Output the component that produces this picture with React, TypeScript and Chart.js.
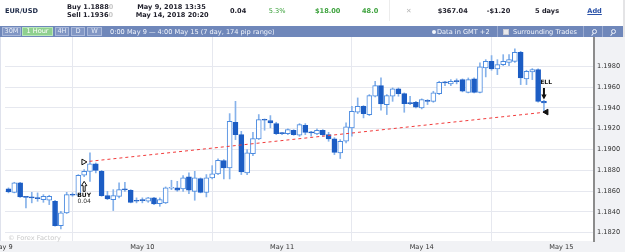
import React, { useEffect, useRef } from "react";
import { Chart, registerables } from "chart.js";

Chart.register(...registerables);

// ---------- data (hourly EUR/USD candles) ----------
const candleOpen = [
  1.18621, 1.18588, 1.18679, 1.18544, 1.18538, 1.18531, 1.18518, 1.18512, 1.18502, 1.18268,
  1.18390, 1.18563, 1.18560, 1.18752, 1.18790, 1.18862, 1.18790, 1.18557, 1.18518, 1.18550,
  1.18614, 1.18608, 1.18506, 1.18512, 1.18502, 1.18535, 1.18480, 1.18487, 1.18627, 1.18631,
  1.18621, 1.18737, 1.18598, 1.18720, 1.18588, 1.18727, 1.18765, 1.18893, 1.18823, 1.19262,
  1.19143, 1.18775, 1.18961, 1.19102, 1.19285, 1.19278, 1.19249, 1.19156, 1.19153, 1.19185,
  1.19137, 1.19233, 1.19162, 1.19150, 1.19185, 1.19143, 1.19102, 1.18967, 1.19079, 1.19208,
  1.19358, 1.19415, 1.19336, 1.19512, 1.19614, 1.19432, 1.19512, 1.19583, 1.19537, 1.19444,
  1.19454, 1.19400, 1.19467, 1.19463, 1.19537, 1.19643, 1.19631, 1.19656, 1.19672, 1.19550,
  1.19679, 1.19550, 1.19785, 1.19848, 1.19775, 1.19816, 1.19838, 1.19848, 1.19935, 1.19679,
  1.19746, 1.19768, 1.19463,
];
const candleHigh = [
  1.18631, 1.18685, 1.18685, 1.18550, 1.18588, 1.18583, 1.18566, 1.18560, 1.18512, 1.18406,
  1.18588, 1.18583, 1.18759, 1.18807, 1.18967, 1.18871, 1.18800, 1.18598, 1.18614, 1.18679,
  1.18685, 1.18614, 1.18535, 1.18535, 1.18540, 1.18540, 1.18535, 1.18640, 1.18704, 1.18694,
  1.18749, 1.18775, 1.18790, 1.18727, 1.18759, 1.18845, 1.18910, 1.18903, 1.19345, 1.19463,
  1.19175, 1.18999, 1.19165, 1.19336, 1.19294, 1.19326, 1.19262, 1.19165, 1.19198, 1.19191,
  1.19249, 1.19249, 1.19175, 1.19198, 1.19191, 1.19165, 1.19114, 1.19095, 1.19256, 1.19415,
  1.19496, 1.19422, 1.19528, 1.19656, 1.19688, 1.19528, 1.19592, 1.19592, 1.19544, 1.19512,
  1.19463, 1.19487, 1.19480, 1.19560, 1.19656, 1.19656, 1.19672, 1.19679, 1.19679, 1.19688,
  1.19688, 1.19833, 1.19864, 1.19903, 1.19864, 1.19912, 1.19912, 1.19967, 1.19944, 1.19762,
  1.19778, 1.19775, 1.19473,
];
const candleLow = [
  1.18583, 1.18583, 1.18540, 1.18438, 1.18487, 1.18502, 1.18492, 1.18470, 1.18262, 1.18237,
  1.18384, 1.18550, 1.18550, 1.18739, 1.18694, 1.18775, 1.18550, 1.18518, 1.18413, 1.18535,
  1.18598, 1.18487, 1.18487, 1.18487, 1.18492, 1.18470, 1.18454, 1.18480, 1.18614, 1.18598,
  1.18598, 1.18576, 1.18512, 1.18583, 1.18544, 1.18717, 1.18759, 1.18717, 1.18717, 1.19095,
  1.18759, 1.18759, 1.18941, 1.19095, 1.19185, 1.19208, 1.19143, 1.19143, 1.19143, 1.19137,
  1.19127, 1.19143, 1.19127, 1.19143, 1.19127, 1.19079, 1.18951, 1.18913, 1.19063, 1.19127,
  1.19345, 1.19304, 1.19326, 1.19506, 1.19377, 1.19336, 1.19463, 1.19512, 1.19358, 1.19432,
  1.19400, 1.19390, 1.19432, 1.19454, 1.19528, 1.19614, 1.19614, 1.19631, 1.19554, 1.19544,
  1.19544, 1.19544, 1.19698, 1.19762, 1.19720, 1.19807, 1.19807, 1.19838, 1.19624, 1.19624,
  1.19672, 1.19454, 1.19367,
];
const candleClose = [
  1.18592, 1.18679, 1.18544, 1.18540, 1.18535, 1.18528, 1.18550, 1.18550, 1.18268, 1.18390,
  1.18566, 1.18560, 1.18752, 1.18790, 1.18862, 1.18800, 1.18557, 1.18525, 1.18557, 1.18614,
  1.18612, 1.18492, 1.18502, 1.18509, 1.18535, 1.18477, 1.18518, 1.18631, 1.18631, 1.18608,
  1.18727, 1.18608, 1.18727, 1.18588, 1.18727, 1.18765, 1.18896, 1.18823, 1.19271, 1.19143,
  1.18785, 1.18967, 1.19105, 1.19287, 1.19281, 1.19256, 1.19153, 1.19153, 1.19191, 1.19143,
  1.19239, 1.19165, 1.19160, 1.19185, 1.19143, 1.19102, 1.18973, 1.19079, 1.19217, 1.19367,
  1.19415, 1.19345, 1.19518, 1.19614, 1.19438, 1.19518, 1.19583, 1.19537, 1.19441, 1.19441,
  1.19406, 1.19480, 1.19463, 1.19544, 1.19646, 1.19640, 1.19656, 1.19653, 1.19560, 1.19672,
  1.19550, 1.19794, 1.19848, 1.19775, 1.19816, 1.19848, 1.19864, 1.19935, 1.19688, 1.19752,
  1.19768, 1.19463, 1.19448,
];

const dayTickValues = [-1, 23, 47, 71, 95];
const dayTickLabels = ["May 9", "May 10", "May 11", "May 14", "May 15"];
const priceTicks = [1.182, 1.184, 1.186, 1.188, 1.19, 1.192, 1.194, 1.196, 1.198];

// trade: entry / exit position (hour slot) and price
const tradeSlots = [12.9, 92.4];
const tradePrices = [1.1888, 1.1936];
const buyCandle = 13;
const sellCandle = 92;
const tradeLots = "0.04";

const FONT = "'DejaVu Sans', sans-serif";
const BEAR = "#1c5dc4";
const BULL_EDGE = "#4a8ae0";
const WICK = "#86b2ea";

const fxPlugin = {
  id: "fxDecor",
  beforeDraw(chart: any) {
    const { ctx, chartArea: a, width, height } = chart;
    ctx.save();
    ctx.fillStyle = "#ffffff";
    ctx.fillRect(0, 0, width, height);
    ctx.fillStyle = "#f1f2f5";
    ctx.fillRect(0, a.bottom, width, height - a.bottom);
    ctx.fillRect(a.right, a.top, width - a.right, height - a.top);
    ctx.fillStyle = "#dfe2ec";
    ctx.fillRect(0, a.top, 1, a.bottom - a.top);
    ctx.restore();
  },
  beforeDatasetsDraw(chart: any) {
    const { ctx, chartArea: a, scales } = chart;
    const xs = scales.x;
    const ys = scales.y;
    ctx.save();
    // watermark
    ctx.font = `6.6px ${FONT}`;
    ctx.fillStyle = "#c9c9c9";
    ctx.textAlign = "left";
    ctx.textBaseline = "middle";
    ctx.fillText("\u00a9 Forex Factory", a.left + 3, a.bottom - 3);

    // SELL arrow (filled, pointing down) above the exit candle
    const sx = xs.getPixelForValue(sellCandle);
    const sb = ys.getPixelForValue(candleHigh[sellCandle]) - 0.7;
    ctx.beginPath();
    ctx.moveTo(sx, sb);
    ctx.lineTo(sx + 2.7, sb - 5.2);
    ctx.lineTo(sx + 1, sb - 5.2);
    ctx.lineTo(sx + 1, sb - 11.7);
    ctx.lineTo(sx - 1, sb - 11.7);
    ctx.lineTo(sx - 1, sb - 5.2);
    ctx.lineTo(sx - 2.7, sb - 5.2);
    ctx.closePath();
    ctx.fillStyle = "#111111";
    ctx.fill();
    ctx.textAlign = "center";
    ctx.font = `bold 6px ${FONT}`;
    ctx.fillText("SELL", sx, sb - 16.7);
    ctx.restore();
  },
  afterDatasetsDraw(chart: any) {
    const { ctx, scales } = chart;
    const xs = scales.x;
    const ys = scales.y;
    ctx.save();
    // BUY arrow (hollow, pointing up) under the entry candle
    const bx = xs.getPixelForValue(buyCandle);
    const bt = ys.getPixelForValue(candleLow[buyCandle]) + 4.7;
    ctx.beginPath();
    ctx.moveTo(bx, bt);
    ctx.lineTo(bx + 2.7, bt + 4.3);
    ctx.lineTo(bx + 1, bt + 4.3);
    ctx.lineTo(bx + 1, bt + 10);
    ctx.lineTo(bx - 1, bt + 10);
    ctx.lineTo(bx - 1, bt + 4.3);
    ctx.lineTo(bx - 2.7, bt + 4.3);
    ctx.closePath();
    ctx.fillStyle = "#ffffff";
    ctx.fill();
    ctx.strokeStyle = "#111111";
    ctx.lineWidth = 1;
    ctx.stroke();
    ctx.textAlign = "center";
    ctx.textBaseline = "middle";
    ctx.fillStyle = "#111111";
    ctx.font = `bold 6px ${FONT}`;
    ctx.fillText("BUY", bx, bt + 14.3);
    ctx.font = `6px ${FONT}`;
    ctx.fillStyle = "#333333";
    ctx.fillText(tradeLots, bx, bt + 20.5);
    ctx.restore();
  },
};

function ChartCanvas() {
  const ref = useRef<HTMLCanvasElement | null>(null);
  useEffect(() => {
    document.body.style.margin = "0";
    const canvas = ref.current;
    if (!canvas) return;
    Chart.defaults.font.family = FONT;
    const bodies = candleOpen.map((o, i) => ({ x: i, y: [o, candleClose[i]] }));
    const wicks = candleLow.map((l, i) => ({ x: i, y: [l, candleHigh[i]] }));
    const isBull = candleOpen.map((o, i) => candleClose[i] >= o);
    const chart = new Chart(canvas, {
      type: "bar",
      data: {
        datasets: [
          {
            type: "bar",
            data: wicks as any,
            backgroundColor: WICK,
            borderWidth: 0,
            barThickness: 1,
            grouped: false,
            order: 3,
          } as any,
          {
            type: "bar",
            data: bodies as any,
            backgroundColor: isBull.map((b) => (b ? "#ffffff" : BEAR)),
            borderColor: isBull.map((b) => (b ? BULL_EDGE : BEAR)),
            borderWidth: 1,
            borderSkipped: false,
            barThickness: 5,
            minBarLength: 1,
            grouped: false,
            order: 2,
          } as any,
          {
            type: "line",
            data: tradeSlots.map((s, i) => ({ x: s, y: tradePrices[i] })),
            borderColor: "#f23b3b",
            borderWidth: 1,
            borderDash: [3, 3],
            pointRadius: 0,
            fill: false,
            order: 1,
          } as any,
          {
            type: "line",
            data: tradeSlots.map((s, i) => ({ x: s, y: tradePrices[i] })),
            showLine: false,
            pointStyle: "triangle",
            pointRadius: 3.3,
            pointRotation: [90, -90],
            pointBackgroundColor: ["#ffffff", "#111111"],
            pointBorderColor: "#111111",
            pointBorderWidth: 1,
            order: 0,
          } as any,
        ],
      },
      options: {
        animation: false,
        responsive: false,
        events: [],
        layout: { padding: { left: 1, top: 37, right: 0, bottom: 0 } },
        plugins: { legend: { display: false }, tooltip: { enabled: false } },
        scales: {
          x: {
            type: "linear",
            min: -0.6,
            max: 100.6,
            offset: false,
            afterFit: (s: any) => {
              s.height = 11;
              s.paddingLeft = 0;
              s.paddingRight = 0;
            },
            afterBuildTicks: (s: any) => {
              s.ticks = dayTickValues.map((v) => ({ value: v }));
            },
            grid: { color: "#e6e8ef", lineWidth: 1, drawTicks: false },
            border: { display: false },
            ticks: {
              autoSkip: false,
              maxRotation: 0,
              padding: 2,
              color: "#333333",
              font: { size: 6.6, family: FONT },
              callback: (_v: any, i: number) => dayTickLabels[i],
            },
          },
          y: {
            type: "linear",
            position: "right",
            min: 1.181202,
            max: 1.200817,
            afterFit: (s: any) => {
              s.width = 31;
              s.paddingTop = 0;
              s.paddingBottom = 0;
            },
            afterBuildTicks: (s: any) => {
              s.ticks = priceTicks.map((v) => ({ value: v }));
            },
            grid: { color: "#e6e8ef", lineWidth: 1, drawTicks: false },
            border: { display: true, color: "#8c8c8c", width: 2 },
            ticks: {
              padding: 3,
              color: "#333333",
              font: { size: 6.6, family: FONT },
              callback: (v: any) => Number(v).toFixed(4),
            },
          },
        },
      },
      plugins: [fxPlugin],
    });
    return () => chart.destroy();
  }, []);
  return <canvas ref={ref} width={625} height={252} style={{ display: "block", position: "absolute", left: 0, top: 0 }} />;
}

const txt = (left: number, cy: number, content: React.ReactNode, extra: React.CSSProperties = {}) => (
  <div
    style={{
      position: "absolute",
      left,
      top: cy - 4,
      lineHeight: "8px",
      fontSize: "6.6px",
      fontWeight: "bold",
      whiteSpace: "nowrap",
      color: "#1e1e2a",
      ...extra,
    }}
  >
    {content}
  </div>
);

const GREEN = "#3da23d";

function Button({ left, width, label, active }: { left: number; width: number; label: string; active?: boolean }) {
  return (
    <div
      style={{
        position: "absolute",
        left,
        top: 1,
        width,
        height: 9,
        boxSizing: "border-box",
        border: `1px solid ${active ? "#b9e7b9" : "#a9b8da"}`,
        background: active ? "#8fd08f" : "#8196c4",
        color: active ? "#ffffff" : "#e6ebf6",
        fontSize: "6.6px",
        lineHeight: "7px",
        textAlign: "center",
      }}
    >
      {label}
    </div>
  );
}

function Magnifier({ left }: { left: number }) {
  return (
    <div style={{ position: "absolute", left, top: 2.5, width: 7, height: 7 }}>
      <div
        style={{
          position: "absolute",
          left: 2,
          top: 0,
          width: 3,
          height: 3,
          border: "1px solid #eef2fa",
          borderRadius: "50%",
        }}
      />
      <div
        style={{
          position: "absolute",
          left: 1.5,
          top: 4.2,
          width: 1,
          height: 3,
          background: "#eef2fa",
          transform: "rotate(35deg)",
        }}
      />
    </div>
  );
}

export default function App() {
  return (
    <div
      style={{
        position: "relative",
        width: 625,
        height: 252,
        overflow: "hidden",
        fontFamily: FONT,
        background: "#ffffff",
      }}
    >
      <ChartCanvas />
      {/* header */}
      <div style={{ position: "absolute", left: 0, top: 0, width: 625, height: 37 }}>
        {txt(5, 11, "EUR/USD", { color: "#1d2a48" })}
        {txt(67, 6.5, <>Buy 1.1888<span style={{ color: "#c8c8c8" }}>0</span></>)}
        {txt(67, 15, <>Sell 1.1936<span style={{ color: "#c8c8c8" }}>0</span></>)}
        {txt(137.3, 6.5, "May 9, 2018 13:35")}
        {txt(135.7, 15, "May 14, 2018 20:20")}
        {txt(230, 11, "0.04")}
        {txt(268.7, 11, "5.3%", { color: GREEN, fontWeight: "normal" })}
        {txt(315, 11, "$18.00", { color: GREEN })}
        {txt(362, 11, "48.0", { color: GREEN })}
        <div style={{ position: "absolute", left: 389, top: 0, width: 1, height: 21, background: "#ececec" }} />
        {txt(406, 11, "\u2715", { color: "#b4b4b4", fontWeight: "normal" })}
        {txt(437.7, 11, "$367.04")}
        {txt(486.7, 11, "-$1.20")}
        {txt(535, 11, "5 days")}
        {txt(587.3, 11, "Add", { color: "#2b52a8", textDecoration: "underline" })}
        <div style={{ position: "absolute", left: 623, top: 0, width: 2, height: 37, background: "#e4e4e6" }} />
        {/* toolbar */}
        <div style={{ position: "absolute", left: 0, top: 26, width: 623, height: 11, background: "#6f87ba" }}>
          <Button left={2} width={19} label="30M" />
          <Button left={22} width={31} label="1 Hour" active />
          <Button left={55} width={14} label="4H" />
          <Button left={71} width={14} label="D" />
          <Button left={87} width={15} label="W" />
          <div
            style={{
              position: "absolute",
              left: 110,
              top: 1.5,
              lineHeight: "8px",
              fontSize: "6.6px",
              color: "#f2f5fb",
              whiteSpace: "nowrap",
            }}
          >
            0:00 May 9 — 4:00 May 15 (7 day, 174 pip range)
          </div>
          <div
            style={{
              position: "absolute",
              left: 432,
              top: 3.5,
              width: 4,
              height: 4,
              borderRadius: "50%",
              background: "#f2f5fb",
            }}
          />
          <div
            style={{
              position: "absolute",
              left: 437,
              top: 1.5,
              lineHeight: "8px",
              fontSize: "6.6px",
              color: "#f2f5fb",
              whiteSpace: "nowrap",
            }}
          >
            Data in GMT +2
          </div>
          <div style={{ position: "absolute", left: 497, top: 0, width: 1, height: 11, background: "#9aaad0" }} />
          <div
            style={{
              position: "absolute",
              left: 503,
              top: 2.5,
              width: 6,
              height: 6,
              boxSizing: "border-box",
              background: "#e9e9ec",
              border: "1px solid #c9cbd4",
            }}
          />
          <div
            style={{
              position: "absolute",
              left: 513,
              top: 1.5,
              lineHeight: "8px",
              fontSize: "6.6px",
              color: "#f2f5fb",
              whiteSpace: "nowrap",
            }}
          >
            Surrounding Trades
          </div>
          <div style={{ position: "absolute", left: 583, top: 0, width: 1, height: 11, background: "#9aaad0" }} />
          <Magnifier left={590} />
          <div style={{ position: "absolute", left: 602, top: 0, width: 1, height: 11, background: "#9aaad0" }} />
          <Magnifier left={609} />
        </div>
      </div>
    </div>
  );
}
